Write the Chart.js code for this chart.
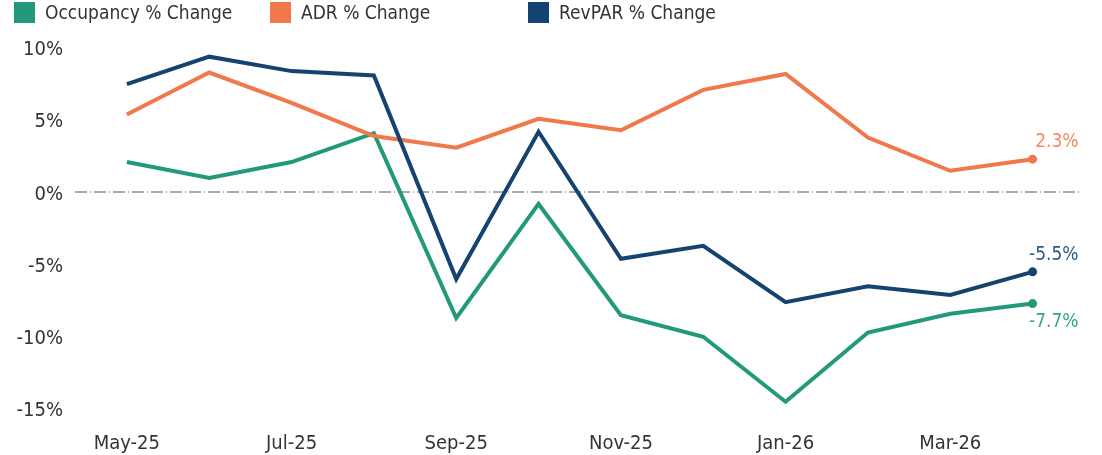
<!DOCTYPE html>
<html>
<head>
<meta charset="utf-8">
<script src="https://cdn.jsdelivr.net/npm/chart.js@4"></script>
<style>
  html, body { margin: 0; padding: 0; background: #fff; }
  #wrap { position: relative; width: 1102px; height: 455px; }
  #legend { position: absolute; left: 0; top: 0; width: 1102px; height: 30px;
    font-family: "DejaVu Sans Condensed", "DejaVu Sans", sans-serif; font-stretch: condensed;
    font-size: 19px; color: #333; }
  .item { position: absolute; top: 1px; height: 22px; line-height: 22px; white-space: nowrap; }
  .box { position: absolute; left: 0; top: 1px; width: 21px; height: 21px; }
  .txt { position: absolute; left: 31px; top: 0; }
  canvas { position: absolute; left: 0; top: 0; }
</style>
</head>
<body>
<div id="wrap">
  <canvas id="c" width="1102" height="455"></canvas>
  <div id="legend"></div>
</div>
<script>
const months = ["May-25","Jun-25","Jul-25","Aug-25","Sep-25","Oct-25","Nov-25","Dec-25","Jan-26","Feb-26","Mar-26","Apr-26"];
const occupancy = [2.1, 1.0, 2.1, 4.1, -8.7, -0.8, -8.5, -10.0, -14.5, -9.7, -8.4, -7.7];
const adr       = [5.4, 8.3, 6.2, 3.9, 3.1, 5.1, 4.3, 7.1, 8.2, 3.8, 1.5, 2.3];
const revpar    = [7.5, 9.4, 8.4, 8.1, -6.0, 4.2, -4.6, -3.7, -7.6, -6.5, -7.1, -5.5];
const seriesNames = ["Occupancy % Change", "ADR % Change", "RevPAR % Change"];
const yTicks = [10, 5, 0, -5, -10, -15];
const xTickIdx = [0, 2, 4, 6, 8, 10];

const colors = ["#21997A", "#F0784A", "#14436F"];
const legendLeft = [14, 270, 528];
const FONT = '"DejaVu Sans Condensed", "DejaVu Sans", sans-serif';

// HTML legend
const lg = document.getElementById('legend');
seriesNames.forEach((n, i) => {
  const d = document.createElement('div');
  d.className = 'item';
  d.style.left = legendLeft[i] + 'px';
  d.innerHTML = '<span class="box" style="background:' + colors[i] + '"></span><span class="txt">' + n + '</span>';
  lg.appendChild(d);
});

const toPts = arr => arr.map((v, i) => ({ x: i, y: v }));
const last = months.length - 1;

const endLabels = {
  id: 'endLabels',
  afterDatasetsDraw(chart) {
    const ctx = chart.ctx;
    ctx.save();
    ctx.font = '19px ' + FONT;
    ctx.textAlign = 'right';
    ctx.textBaseline = 'middle';
    chart.data.datasets.forEach((ds, i) => {
      const meta = chart.getDatasetMeta(i);
      const pt = meta.data[last];
      const v = ds.data[last].y;
      ctx.fillStyle = ds.labelColor;
      const dy = ds.labelPos === 'below' ? 18 : -17;
      ctx.fillText(v.toFixed(1) + '%', pt.x + 46, pt.y + dy);
    });
    ctx.restore();
  }
};

function ds(label, arr, color, labelColor, pos) {
  return {
    label, data: toPts(arr),
    borderColor: color, backgroundColor: color,
    borderWidth: 4, tension: 0,
    pointRadius: arr.map((_, i) => i === last ? 4.5 : 0),
    pointHoverRadius: 0,
    pointBackgroundColor: color, pointBorderWidth: 0,
    labelColor, labelPos: pos
  };
}

new Chart(document.getElementById('c'), {
  type: 'line',
  data: {
    datasets: [
      ds(seriesNames[2], revpar, colors[2], '#2C5A85', 'above'),
      ds(seriesNames[1], adr, colors[1], '#F28A62', 'above'),
      ds(seriesNames[0], occupancy, colors[0], '#3AA589', 'below')
    ]
  },
  options: {
    responsive: false,
    animation: false,
    events: [],
    layout: { padding: { top: 48, right: 20, left: 0, bottom: 0 } },
    plugins: { legend: { display: false }, tooltip: { enabled: false } },
    scales: {
      x: {
        type: 'linear',
        min: -0.63, max: 11.6,
        afterBuildTicks(scale) { scale.ticks = xTickIdx.map(v => ({ value: v })); },
        afterFit(scale) { scale.height = 46; },
        grid: { display: false, drawTicks: false },
        border: { display: false },
        ticks: {
          autoSkip: false, maxRotation: 0, padding: 23,
          color: '#333', font: { family: FONT, size: 20 },
          callback: v => months[v]
        }
      },
      y: {
        min: -15, max: 10,
        afterBuildTicks(scale) { scale.ticks = yTicks.map(v => ({ value: v })); },
        afterFit(scale) { scale.width = 75; },
        grid: {
          drawTicks: false,
          lineWidth: 2,
          color: c => (c.tick && c.tick.value === 0) ? '#ABABAB' : 'rgba(0,0,0,0)'
        },
        border: { display: false, dash: [12, 3, 1, 3] },
        ticks: {
          padding: 12, labelOffset: 2, color: '#333', font: { family: FONT, size: 20 },
          callback: v => v + '%'
        }
      }
    }
  },
  plugins: [endLabels]
});
</script>
</body>
</html>
